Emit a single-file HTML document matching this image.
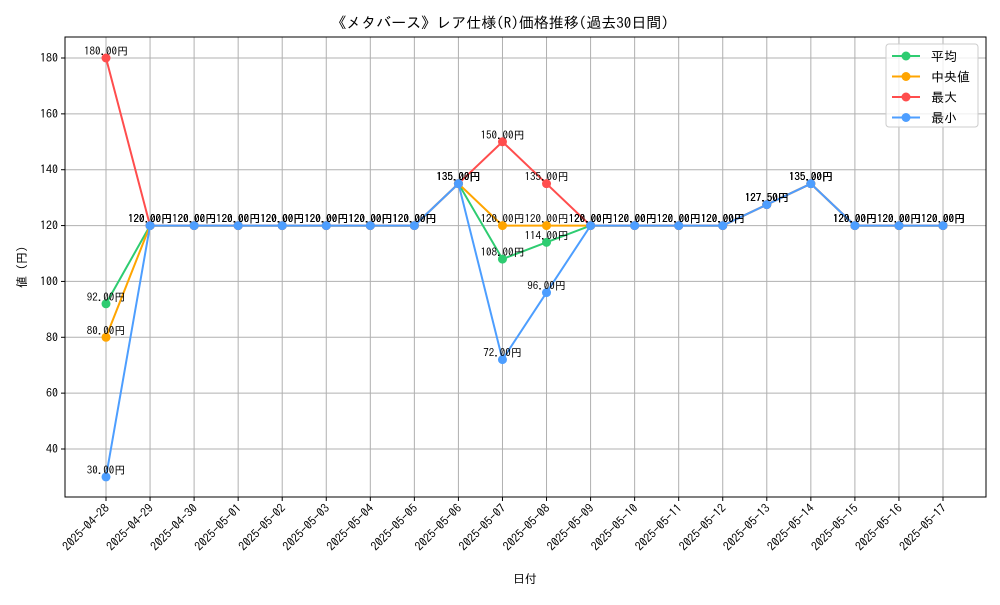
<!DOCTYPE html>
<html><head><meta charset="utf-8"><style>
body{margin:0;background:#fff}
svg{font-family:"IPAGothic","Noto Sans CJK JP","Liberation Sans",sans-serif}
</style></head><body>
<svg id="chart" width="1000" height="600" xmlns="http://www.w3.org/2000/svg">
<rect width="1000" height="600" fill="#fff"/>
<text x="500" y="28" text-anchor="middle" font-size="15">《メタバース》レア仕様(R)価格推移(過去30日間)</text>
<g id="grid"></g><g id="axes"></g><g id="series"></g><g id="labels"></g>
<text x="525" y="583" text-anchor="middle" font-size="12">日付</text>
<text transform="translate(26,267) rotate(-90)" text-anchor="middle" font-size="12">値 (円)</text>
<g id="legend"></g>
</svg>
<script>
const dates=["2025-04-28","2025-04-29","2025-04-30","2025-05-01","2025-05-02","2025-05-03","2025-05-04","2025-05-05","2025-05-06","2025-05-07","2025-05-08","2025-05-09","2025-05-10","2025-05-11","2025-05-12","2025-05-13","2025-05-14","2025-05-15","2025-05-16","2025-05-17"];
const avgVals=[92,120,120,120,120,120,120,120,135,108,114,120,120,120,120,127.5,135,120,120,120];
const medianVals=[80,120,120,120,120,120,120,120,135,120,120,120,120,120,120,127.5,135,120,120,120];
const maxVals=[180,120,120,120,120,120,120,120,135,150,135,120,120,120,120,127.5,135,120,120,120];
const minVals=[30,120,120,120,120,120,120,120,135,72,96,120,120,120,120,127.5,135,120,120,120];
const yTicks=[40,60,80,100,120,140,160,180];
const seriesNames=["平均","中央値","最大","最小"];
const colors=["#2ecc71","#ffa500","#ff4d4d","#4d9eff"];
const NS="http://www.w3.org/2000/svg";
const L=65,R=986,T=37,B=497;
const x=i=>106+i*(943-106)/(dates.length-1);
const y=v=>58+(180-v)*(449-58)/140;
function mk(tag,attrs,parent,txt){const e=document.createElementNS(NS,tag);for(const k in attrs)e.setAttribute(k,attrs[k]);if(txt!==undefined)e.textContent=txt;parent.appendChild(e);return e;}
const grid=document.getElementById('grid'),axes=document.getElementById('axes');
dates.forEach((d,i)=>{
 const g=mk('line',{x1:x(i),x2:x(i),y1:T,y2:B,stroke:'#b0b0b0','stroke-width':1},grid);
 
 
 mk('line',{x1:x(i),x2:x(i),y1:B,y2:B+4,stroke:'#000'},axes);
 const t=mk('text',{'font-size':12,'text-anchor':'end',transform:`translate(${x(i)+4},${B+12}) rotate(-45)`},axes,d);
 
 
});
yTicks.forEach(v=>{
 const g=mk('line',{x1:L,x2:R,y1:y(v),y2:y(v),stroke:'#b0b0b0','stroke-width':1},grid);
 
 
 mk('line',{x1:L-4,x2:L,y1:y(v),y2:y(v),stroke:'#000'},axes);
 const t=mk('text',{x:L-7,y:y(v)+4,'font-size':12,'text-anchor':'end'},axes,String(v));
 
 
});
const frame=mk('rect',{x:L,y:T,width:R-L,height:B-T,fill:'none',stroke:'#000','stroke-width':1},axes);


const all=[avgVals,medianVals,maxVals,minVals];
const sg=document.getElementById('series'),lg=document.getElementById('labels');
all.forEach((vals,s)=>{
 const p=mk('polyline',{points:vals.map((v,i)=>x(i)+','+y(v)).join(' '),fill:'none',stroke:colors[s],'stroke-width':2},sg);
 
 
 vals.forEach((v,i)=>{
  const c=mk('circle',{cx:x(i),cy:y(v),r:4.5,fill:colors[s]},sg);
  
  
  const t=mk('text',{x:x(i),y:y(v)-3,'font-size':11,'text-anchor':'middle'},lg,v.toFixed(2)+'円');
  
  
 });
});
const leg=document.getElementById('legend');
const box=mk('rect',{x:886,y:44,width:92,height:83,rx:3,fill:'#fff','fill-opacity':0.8,stroke:'#ccc'},leg);


seriesNames.forEach((n,s)=>{
 const yy=56+s*20.5;
 const ln=mk('line',{x1:892,x2:920,y1:yy,y2:yy,stroke:colors[s],'stroke-width':2},leg);
 
 
 mk('circle',{cx:906,cy:yy,r:4.5,fill:colors[s]},leg);
 const t=mk('text',{x:931,y:yy+5,'font-size':13},leg,(s==1?' ':'')+n);
 
 
});
</script>
</body></html>
